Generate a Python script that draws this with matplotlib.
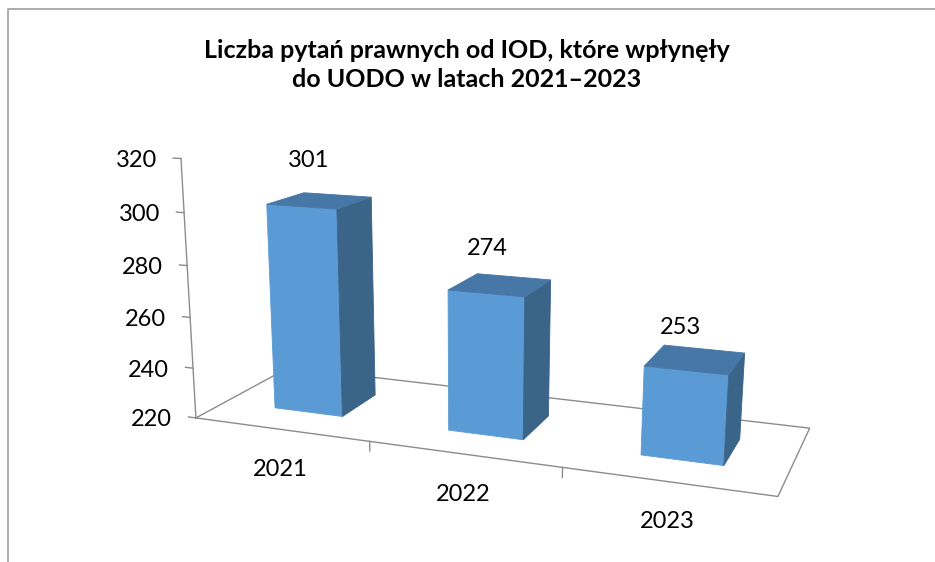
import numpy as np
import matplotlib
matplotlib.use("Agg")
import matplotlib.pyplot as plt

plt.rcParams["font.family"] = ["Lato", "DejaVu Sans"]

years = ["2021", "2022", "2023"]
values = [301, 274, 253]
y_ticks = [220, 240, 260, 280, 300, 320]
title = "Liczba pytań prawnych od IOD, które wpłynęły\ndo UODO w latach 2021–2023"

# simple pinhole camera for the Excel-like 3D view (world: x = category, y = depth, z = height)
yaw, pitch = np.radians(21.4), np.radians(15.7)
fwd = np.array([-np.sin(yaw) * np.cos(pitch), np.cos(yaw) * np.cos(pitch), -np.sin(pitch)])
right = np.array([np.cos(yaw), np.sin(yaw), 0.0])
up = np.cross(right, fwd)
cam = np.array([3.78, -5.732, 2.25])
focal, cx, cy = 1358.0, 470.0, 351.0
wall_h = 1.35
vmin, vmax = y_ticks[0], y_ticks[-1]


def project(x, y, z):
    p = np.stack(np.broadcast_arrays(x, y, z), axis=-1).astype(float) - cam
    xc, yc, zc = p @ right, p @ up, p @ fwd
    return cx + focal * xc / zc, cy - focal * yc / zc


def height(v):
    return (v - vmin) / (vmax - vmin) * wall_h


fig = plt.figure(figsize=(9.35, 5.62), dpi=100)
ax = fig.add_axes([0, 0, 1, 1])
ax.set_xlim(0, 935)
ax.set_ylim(562, 0)
ax.axis("off")

# chart area border (only top/left visible)
ax.plot([8, 8, 940], [570, 9, 9], color="#a0a0a0", lw=1.2, solid_capstyle="butt")

ax.text(467, 65, title, ha="center", va="center", fontsize=18, fontweight="bold",
        linespacing=1.3)

n = len(years)
grey = "#8c8c8c"
fs = 17
# floor
fx = np.array([0, n, n, 0, 0])
fy = np.array([0, 0, 1, 1, 0])
u, v = project(fx, fy, 0)
ax.plot(u, v, color=grey, lw=1, zorder=1)
# value axis
u, v = project([0, 0], [0, 0], [0, wall_h])
ax.plot(u, v, color=grey, lw=1, zorder=1)
for t in y_ticks:
    u, v = project([0, -0.045], [0, 0], height(t))
    ax.plot(u, v, color=grey, lw=1, zorder=1)
    ax.text(u[0] - 24, v[0] + 2, str(t), ha="right", va="center", fontsize=fs)
# category ticks and labels
for i in range(1, n):
    u, v = project([i, i], [0, 0], [0, -0.05])
    ax.plot(u, v, color=grey, lw=1, zorder=1)
for i, yr in enumerate(years):
    u, v = project(i + 0.5, 0, 0)
    ax.text(u, v + 40, yr, ha="center", va="center", fontsize=fs)

# bars
front_c, side_c, top_c = "#5b9bd5", "#3b6489", "#4677a6"
x_pad, y0, y1 = 0.3, 0.3, 0.7
for i, val in enumerate(values):
    xa, xb = i + x_pad, i + 1 - x_pad
    h = height(val)
    faces = [
        ([xa, xb, xb, xa], [y0, y0, y0, y0], [0, 0, h, h], front_c),
        ([xb, xb, xb, xb], [y0, y1, y1, y0], [0, 0, h, h], side_c),
        ([xa, xb, xb, xa], [y0, y0, y1, y1], [h, h, h, h], top_c),
    ]
    for xs, ys, zs, c in faces:
        u, v = project(np.array(xs), np.array(ys), np.array(zs))
        ax.fill(u, v, color=c, ec=c, lw=0.6, zorder=3)
    u, v = project(i + 0.5, 0.5, h)
    ax.text(u - 11 - 2 * i, v - 40 + 4 * i, str(val), ha="center", va="center",
            fontsize=fs, zorder=4)

fig.savefig("out.png", dpi=100)
